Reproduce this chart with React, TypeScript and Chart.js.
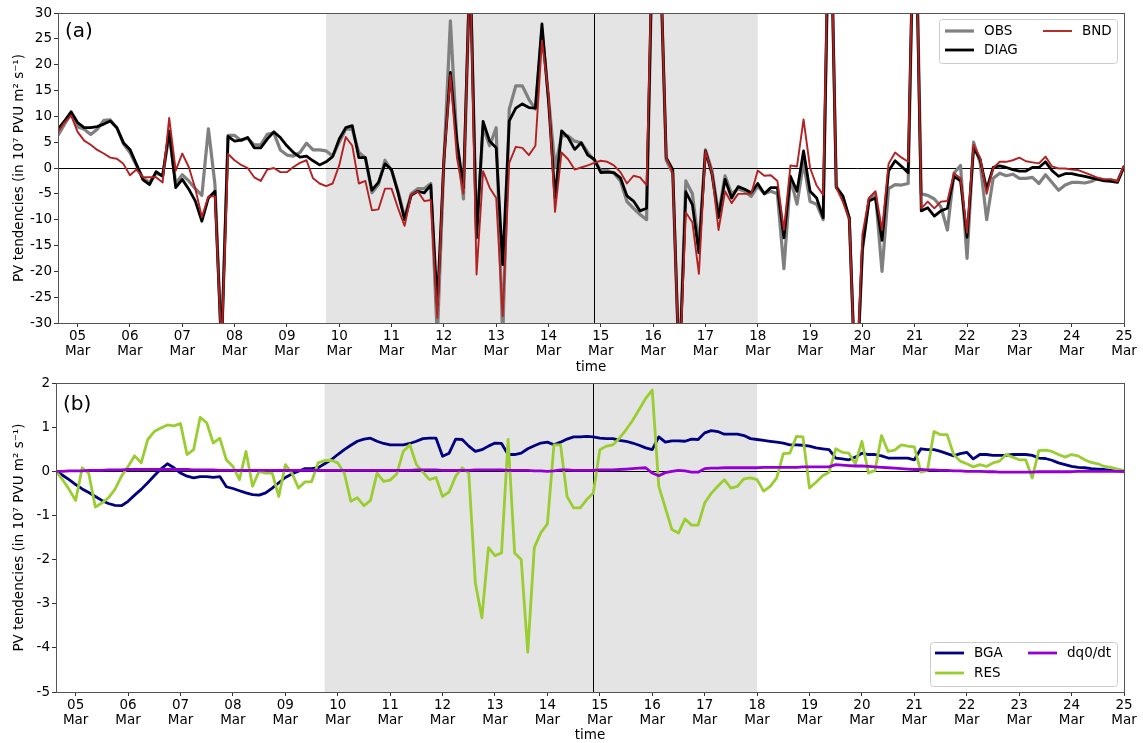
import React, { useEffect, useRef } from 'react';
import { Chart, registerables } from 'chart.js';

Chart.register(...registerables);

// ---------- time axis (days relative to 05 Mar 00:00, 3-hourly samples) ----------
const START_DAY = -0.375; // 04 Mar 15:00
const STEP_DAY = 0.125; // 3 hours
const END_DAY = 20; // 25 Mar 00:00
const DAY_TICKS = [0, 1, 2, 3, 4, 5, 6, 7, 8, 9, 10, 11, 12, 13, 14, 15, 16, 17, 18, 19, 20];
const DAY_LABELS = ['05', '06', '07', '08', '09', '10', '11', '12', '13', '14', '15', '16', '17', '18', '19', '20', '21', '22', '23', '24', '25'];
const MONTH_LABEL = 'Mar';
const SHADE_START = 4.75; // 09 Mar 18:00
const SHADE_END = 13.0; // 18 Mar 00:00
const MARK_DAY = 9.875; // 14 Mar 21:00

// ---------- panel (a) ----------
const OBS = [
  6.3, 8.5, 10.5, 8.0, 7.5, 6.5, 7.5, 9.2, 9.3, 7.8, 4.7, 3.0, 0.5, -2.0, -2.8, -1.0, -1.5, 6.5, -3.0, -1.3, -2.5, -4.0, -5.3, 7.6, -3.2, -35, 6.3, 6.3, 5.3, 5.8, 4.5, 4.5, 6.5, 6.8, 3.5, 2.5, 2.3, 3.0, 4.8, 3.5, 3.5,
  3.3, 2.3, 5.0, 7.5, 7.5, 3.0, 2.0, -4.8, -3.2, 1.5, -0.5, -4.5, -9.5, -5.0, -4.0, -4.0, -3.0, -33, 1.0, 28.5, 5.0, -6.0, 40, -13, 8.0, 4.3, 7.8, -33, 11.4, 15.9, 15.9, 13.3, 11.4, 26.6, 13.7, 0.1, 6.2, 6.2, 5.2, 4.9, 3.0,
  1.5, -0.5, -0.5, -1.0, -2.5, -6.5, -7.8, -9.0, -10.0, 50, 45, 1.5, -1.0, -40, -2.5, -5.0, -15, 3.5, -0.5, -9.0, -1.5, -5.0, -4.0, -4.5, -5.5, -3.5, -5.0, -4.5, -5.0, -19.5, -2.0, -7.0, 1.0, -6.5, -7.0, -10.0, 60, -3.5, -5.5, -10.0, -45,
  -16, -6.0, -5.0, -20.0, -4.0, -3.2, -3.3, -3.0, 60, -5.0, -5.3, -6.0, -7.5, -12.0, -1.0, 0.5, -17.5, 5.0, 1.0, -10.0, -2.0, -1.0, -1.5, -1.2, -2.0, -2.0, -1.8, -3.0, -1.3, -2.8, -4.3, -3.3, -2.8, -2.8, -2.9, -2.6, -2.0, -2.3, -2.3, -2.5, 0.3,
];
const DIAG = [
  7.5, 9.1, 10.9, 8.8, 7.8, 7.8, 8.0, 8.5, 9.1, 7.8, 4.9, 3.6, 0.7, -2.3, -3.2, -0.7, -1.6, 7.2, -3.8, -2.2, -4.1, -6.4, -10.3, -5.8, -4.5, -35, 6.1, 5.2, 5.4, 5.9, 3.9, 3.9, 5.6, 7.0, 5.9, 4.3, 3.0, 2.1, 2.3, 1.4, 0.6,
  1.2, 2.2, 5.6, 7.8, 8.2, 2.0, 2.0, -4.3, -2.8, 0.8, -0.3, -4.8, -10.0, -5.3, -4.5, -4.8, -3.3, -26.5, 1.4, 18.5, 5.2, -3.8, 40, -13.5, 9.0, 5.2, 3.9, -18.7, 9.1, 11.6, 12.4, 11.7, 11.6, 27.9, 13.0, -5.8, 7.2, 5.9, 3.6, 4.9, 2.5,
  1.7, -0.9, -0.8, -0.9, -1.9, -5.4, -6.4, -8.3, -7.8, 50, 45, 2.0, -0.3, -40, -4.6, -7.1, -16.4, 3.3, -1.2, -9.6, -2.2, -5.8, -3.6, -4.1, -4.8, -3.0, -5.0, -3.8, -3.8, -13.5, -1.6, -4.5, 3.3, -4.5, -5.8, -9.6, 60, -3.8, -5.4, -9.6, -45,
  -15.5, -6.4, -5.8, -14.0, -0.6, 1.4, 0.3, -0.9, 60, -8.3, -7.7, -9.3, -8.3, -7.8, -1.6, -2.5, -13.4, 3.9, 1.7, -4.1, 0.1, 0.4, 0.1, -0.3, -0.6, -0.6, 0.1, 0.1, 1.2, -0.5, -1.6, -1.1, -1.1, -1.4, -1.6, -1.9, -2.2, -2.5, -2.6, -2.8, 0.3,
];
const BND = [
  7.0, 8.8, 10.2, 7.0, 5.3, 4.5, 3.5, 2.8, 2.0, 1.8, 0.8, -1.4, -0.3, -1.8, -1.8, -1.8, -2.8, 9.7, -0.5, 2.8, 0.2, -4.0, -9.5, -5.5, -5.5, -35, 2.7, 1.5, 0.6, 0.0, -1.8, -2.5, -0.3, 0.0, -0.8, -0.8, 0.2, 1.0, 1.5, -2.0, -3.0,
  -3.5, -3.0, 0.5, 6.0, 4.3, -3.0, -2.5, -8.2, -8.0, -4.0, -4.0, -7.8, -11.2, -5.2, -4.5, -6.4, -6.2, -29, 1.5, 18.0, 2.0, -5.0, 40, -20.6, -0.6, -3.8, -5.8, -28.7, 1.0, 4.1, 3.9, 2.5, 4.3, 24.7, 14.3, -8.5, 3.0, 1.7, -0.3, 0.1, 0.5,
  1.0, 1.4, 1.2, 0.5, -0.8, -3.0, -1.5, -1.8, -3.3, 50, 45, 2.0, -1.0, -40, -8.6, -10.5, -20.5, 3.3, -1.0, -12.0, -4.5, -6.8, -5.0, -5.0, -5.0, -0.5, -1.5, -1.4, -2.5, -12.0, 0.5, 0.3, 9.4, 0.0, -3.4, -5.2, 60, -3.8, -6.5, -10.0, -45,
  -12.9, -5.8, -4.5, -12.0, 0.8, 3.0, 2.0, 1.2, 60, -7.8, -6.5, -7.8, -6.5, -6.4, -1.0, -2.0, -12.5, 4.5, 2.0, -5.0, 0.0, 1.2, 1.2, 1.5, 2.0, 1.3, 1.1, 0.9, 2.2, 0.3, -0.1, -0.1, -0.3, -0.4, -0.9, -1.4, -1.9, -2.2, -2.2, -2.6, 0.5,
];

// ---------- panel (b) ----------
const BGA = [
  0.0, -0.09, -0.19, -0.3, -0.4, -0.48, -0.57, -0.66, -0.73, -0.77, -0.78, -0.68, -0.54, -0.41, -0.26, -0.1, 0.05, 0.17, 0.08, -0.04, -0.11, -0.15, -0.12, -0.12, -0.14, -0.12, -0.35, -0.39, -0.44, -0.49, -0.53, -0.54, -0.49, -0.38, -0.26, -0.14, -0.06, 0.0, 0.06, 0.06, 0.08,
  0.17, 0.26, 0.38, 0.49, 0.59, 0.68, 0.73, 0.75, 0.68, 0.63, 0.6, 0.6, 0.6, 0.63, 0.68, 0.74, 0.75, 0.75, 0.34, 0.41, 0.73, 0.72, 0.57, 0.45, 0.49, 0.57, 0.64, 0.63, 0.38, 0.38, 0.41, 0.51, 0.58, 0.64, 0.66, 0.6, 0.66, 0.73, 0.78, 0.78, 0.79,
  0.78, 0.75, 0.74, 0.74, 0.7, 0.68, 0.64, 0.59, 0.53, 0.49, 0.78, 0.66, 0.69, 0.69, 0.68, 0.73, 0.72, 0.87, 0.92, 0.9, 0.84, 0.84, 0.84, 0.81, 0.74, 0.72, 0.7, 0.68, 0.66, 0.64, 0.6, 0.6, 0.59, 0.57, 0.53, 0.51, 0.49, 0.3, 0.28, 0.26, 0.32,
  0.41, 0.38, 0.38, 0.35, 0.3, 0.3, 0.3, 0.3, 0.26, 0.51, 0.49, 0.49, 0.45, 0.4, 0.35, 0.4, 0.43, 0.28, 0.38, 0.38, 0.36, 0.36, 0.36, 0.38, 0.38, 0.38, 0.36, 0.3, 0.29, 0.25, 0.19, 0.15, 0.11, 0.09, 0.08, 0.06, 0.05, 0.04, 0.02, 0.01, 0.0,
];
const RES = [
  0.0, -0.19, -0.41, -0.66, 0.08, -0.05, -0.81, -0.72, -0.6, -0.41, -0.11, 0.11, 0.35, 0.19, 0.72, 0.9, 0.98, 1.05, 1.03, 1.08, 0.38, 0.49, 1.22, 1.1, 0.64, 0.75, 0.26, 0.11, -0.19, 0.45, -0.34, 0.0, -0.04, -0.04, -0.57, 0.15, -0.04, -0.38, -0.24, -0.24, 0.19,
  0.24, 0.25, 0.19, -0.04, -0.68, -0.6, -0.78, -0.66, -0.04, -0.23, -0.2, -0.06, 0.45, 0.6, 0.15, -0.02, -0.19, -0.14, -0.57, -0.47, -0.11, 0.08, -0.04, -2.53, -3.32, -1.73, -1.91, -1.85, 0.72, -1.85, -2.0, -4.1, -1.73, -1.39, -1.19, 0.6, 0.6, -0.57, -0.83, -0.83, -0.64,
  -0.49, 0.49, 0.57, 0.6, 0.75, 0.94, 1.15, 1.4, 1.65, 1.84, -0.34, -0.83, -1.32, -1.4, -1.08, -1.22, -1.22, -0.72, -0.5, -0.34, -0.19, -0.38, -0.34, -0.17, -0.15, -0.19, -0.45, -0.34, -0.15, 0.4, 0.41, 0.79, 0.78, -0.38, -0.25, -0.1, -0.02, 0.51, 0.43, 0.41, 0.17,
  0.68, -0.04, 0.02, 0.81, 0.45, 0.48, 0.6, 0.57, 0.55, -0.02, 0.02, 0.9, 0.83, 0.83, 0.38, 0.23, 0.17, 0.1, 0.15, 0.11, 0.19, 0.23, 0.38, 0.32, 0.26, 0.26, -0.15, 0.47, 0.48, 0.45, 0.38, 0.32, 0.38, 0.35, 0.26, 0.2, 0.17, 0.11, 0.09, 0.05, 0.02,
];
const DQ0DT = [
  0.0, 0.0, 0.01, 0.01, 0.01, 0.02, 0.02, 0.02, 0.03, 0.03, 0.03, 0.04, 0.04, 0.04, 0.04, 0.04, 0.04, 0.04, 0.04, 0.04, 0.04, 0.03, 0.03, 0.03, 0.03, 0.02, 0.02, 0.02, 0.02, 0.02, 0.02, 0.02, 0.02, 0.02, 0.02, 0.02, 0.02, 0.02, 0.02, 0.02, 0.02,
  0.02, 0.02, 0.02, 0.02, 0.02, 0.02, 0.02, 0.02, 0.02, 0.02, 0.02, 0.02, 0.02, 0.02, 0.03, 0.03, 0.03, 0.03, 0.02, 0.02, 0.02, 0.02, 0.02, 0.03, 0.03, 0.03, 0.03, 0.03, 0.02, 0.02, 0.02, 0.02, 0.01, 0.01, 0.0, 0.01, 0.03, 0.03, 0.02, 0.02, 0.02,
  0.02, 0.03, 0.03, 0.03, 0.04, 0.05, 0.06, 0.07, 0.08, -0.04, -0.1, -0.03, 0.0, 0.02, 0.01, -0.02, -0.02, 0.06, 0.07, 0.07, 0.08, 0.08, 0.08, 0.08, 0.08, 0.08, 0.09, 0.09, 0.09, 0.09, 0.09, 0.09, 0.1, 0.1, 0.1, 0.1, 0.1, 0.15, 0.14, 0.13, 0.12,
  0.12, 0.11, 0.1, 0.09, 0.08, 0.07, 0.06, 0.05, 0.04, 0.04, 0.03, 0.03, 0.02, 0.02, 0.01, 0.01, 0.0, 0.0, 0.0, -0.01, -0.01, -0.02, -0.02, -0.02, -0.02, -0.02, -0.02, -0.01, -0.01, -0.01, -0.01, -0.01, -0.01, 0.0, 0.0, 0.0, 0.0, 0.0, 0.0, 0.0, 0.0,
];

const Y_TITLE = 'PV tendencies (in 10\u2077 PVU m\u00b2 s\u207b\u00b9)';
const X_TITLE = 'time';
const FONT = "'DejaVu Sans', sans-serif";
const TICK_SIZE = 13.5;

const TIME = OBS.map((_, i) => START_DAY + STEP_DAY * i);
const toPoints = (vals: number[]) => vals.map((v, i) => ({ x: TIME[i], y: v }));

type LegendItem = { label: string; color: string; width: number; hx: number; ty: number };
type PanelSpec = {
  tag: string;
  height: number;
  top: number;
  axisLeft: number;
  axisHeight: number;
  yMin: number;
  yMax: number;
  yStep: number;
  datasets: { label: string; data: number[]; color: string; width: number; order: number }[];
  legendBox: [number, number, number, number];
  legend: LegendItem[];
  tagY: number;
  timeY: number;
};

const PANELS: PanelSpec[] = [
  {
    tag: '(a)',
    height: 371,
    top: 13,
    axisLeft: 58,
    axisHeight: 48,
    yMin: -30,
    yMax: 30,
    yStep: 5,
    datasets: [
      { label: 'OBS', data: OBS, color: '#808080', width: 3.2, order: 2 },
      { label: 'DIAG', data: DIAG, color: '#000000', width: 2.8, order: 1 },
      { label: 'BND', data: BND, color: '#b22222', width: 1.9, order: 0 },
    ],
    legendBox: [939, 19, 178, 44],
    legend: [
      { label: 'OBS', color: '#808080', width: 3.2, hx: 945, ty: 31 },
      { label: 'DIAG', color: '#000000', width: 2.8, hx: 945, ty: 50 },
      { label: 'BND', color: '#b22222', width: 1.9, hx: 1043, ty: 31 },
    ],
    tagY: 32,
    timeY: 367,
  },
  {
    tag: '(b)',
    height: 372,
    top: 12,
    axisLeft: 56,
    axisHeight: 51,
    yMin: -5,
    yMax: 2,
    yStep: 1,
    datasets: [
      { label: 'BGA', data: BGA, color: '#000080', width: 2.8, order: 2 },
      { label: 'RES', data: RES, color: '#9acd32', width: 2.8, order: 1 },
      { label: 'dq0/dt', data: DQ0DT, color: '#9400d3', width: 2.8, order: 0 },
    ],
    legendBox: [930, 271, 187, 44],
    legend: [
      { label: 'BGA', color: '#000080', width: 2.8, hx: 935, ty: 282 },
      { label: 'RES', color: '#9acd32', width: 2.8, hx: 935, ty: 302 },
      { label: 'dq0/dt', color: '#9400d3', width: 2.8, hx: 1028, ty: 282 },
    ],
    tagY: 34,
    timeY: 364,
  },
];

function makeDecor(spec: PanelSpec) {
  return {
    id: 'decor' + spec.tag,
    beforeDatasetsDraw(chart: any) {
      const { ctx, chartArea: a, scales } = chart;
      const x = scales.x;
      const y = scales.y;
      ctx.save();
      ctx.beginPath();
      ctx.rect(a.left, a.top, a.right - a.left, a.bottom - a.top);
      ctx.clip();
      const s1 = x.getPixelForValue(SHADE_START);
      const s2 = x.getPixelForValue(SHADE_END);
      ctx.fillStyle = '#e4e4e4';
      ctx.fillRect(s1, a.top, s2 - s1, a.bottom - a.top);
      ctx.strokeStyle = '#000';
      ctx.lineWidth = 1;
      const y0 = Math.round(y.getPixelForValue(0)) + 0.5;
      ctx.beginPath();
      ctx.moveTo(a.left, y0);
      ctx.lineTo(a.right, y0);
      ctx.stroke();
      const xm = Math.round(x.getPixelForValue(MARK_DAY)) + 0.5;
      ctx.beginPath();
      ctx.moveTo(xm, a.top);
      ctx.lineTo(xm, a.bottom);
      ctx.stroke();
      ctx.restore();
    },
    afterDraw(chart: any) {
      const { ctx, chartArea: a } = chart;
      ctx.save();
      // frame
      ctx.strokeStyle = '#555';
      ctx.lineWidth = 1;
      ctx.strokeRect(Math.round(a.left) + 0.5, Math.round(a.top) + 0.5, Math.round(a.right - a.left), Math.round(a.bottom - a.top));
      // panel tag
      ctx.fillStyle = '#000';
      ctx.font = `20px ${FONT}`;
      ctx.textAlign = 'left';
      ctx.textBaseline = 'middle';
      ctx.fillText(spec.tag, a.left + 7, spec.tagY);
      // y title
      ctx.font = `${TICK_SIZE}px ${FONT}`;
      ctx.save();
      ctx.translate(19, (a.top + a.bottom) / 2);
      ctx.rotate(-Math.PI / 2);
      ctx.textAlign = 'center';
      ctx.textBaseline = 'middle';
      ctx.fillText(Y_TITLE, 0, 0);
      ctx.restore();
      // x title
      ctx.textAlign = 'center';
      ctx.textBaseline = 'middle';
      ctx.fillText(X_TITLE, (a.left + a.right) / 2, spec.timeY);
      // legend
      const [bx, by, bw, bh] = spec.legendBox;
      ctx.fillStyle = 'rgba(255,255,255,0.8)';
      ctx.strokeStyle = '#cccccc';
      ctx.lineWidth = 1;
      ctx.beginPath();
      (ctx as any).roundRect(bx + 0.5, by + 0.5, bw, bh, 3);
      ctx.fill();
      ctx.stroke();
      ctx.textAlign = 'left';
      ctx.textBaseline = 'middle';
      for (const it of spec.legend) {
        ctx.strokeStyle = it.color;
        ctx.lineWidth = it.width;
        ctx.beginPath();
        ctx.moveTo(it.hx, it.ty);
        ctx.lineTo(it.hx + 29, it.ty);
        ctx.stroke();
        ctx.fillStyle = '#000';
        ctx.fillText(it.label, it.hx + 39, it.ty);
      }
      ctx.restore();
    },
  };
}

function buildConfig(spec: PanelSpec): any {
  const grid = {
    display: true,
    drawOnChartArea: false,
    drawTicks: true,
    tickLength: 4,
    tickColor: '#333',
    tickWidth: 1,
  };
  return {
    type: 'line',
    data: {
      datasets: spec.datasets.map((d) => ({
        label: d.label,
        data: toPoints(d.data),
        borderColor: d.color,
        backgroundColor: d.color,
        borderWidth: d.width,
        order: d.order,
        pointRadius: 0,
        tension: 0,
        fill: false,
        clip: 0,
        borderJoinStyle: 'round',
      })),
    },
    options: {
      responsive: false,
      animation: false,
      devicePixelRatio: 1,
      parsing: true,
      layout: { padding: { left: 0, right: 19, top: spec.top, bottom: 0 } },
      plugins: { legend: { display: false }, tooltip: { enabled: false } },
      scales: {
        x: {
          type: 'linear',
          min: START_DAY,
          max: END_DAY,
          afterBuildTicks: (scale: any) => {
            scale.ticks = DAY_TICKS.map((v) => ({ value: v }));
          },
          afterFit: (scale: any) => {
            scale.height = spec.axisHeight;
          },
          ticks: {
            autoSkip: false,
            maxRotation: 0,
            minRotation: 0,
            padding: 2,
            color: '#000',
            font: { family: FONT, size: TICK_SIZE, lineHeight: 1.1 },
            callback: (value: number) => {
              const idx = DAY_TICKS.indexOf(Math.round(value));
              return [DAY_LABELS[idx], MONTH_LABEL];
            },
          },
          grid,
          border: { display: false },
        },
        y: {
          type: 'linear',
          min: spec.yMin,
          max: spec.yMax,
          afterFit: (scale: any) => {
            scale.width = spec.axisLeft;
          },
          ticks: {
            stepSize: spec.yStep,
            padding: 2,
            color: '#000',
            font: { family: FONT, size: TICK_SIZE },
          },
          grid,
          border: { display: false },
        },
      },
    },
    plugins: [makeDecor(spec)],
  };
}

function Panel({ spec }: { spec: PanelSpec }) {
  const ref = useRef<HTMLCanvasElement | null>(null);
  useEffect(() => {
    if (!ref.current) return;
    const chart = new Chart(ref.current, buildConfig(spec));
    return () => chart.destroy();
  }, [spec]);
  return <canvas ref={ref} width={1143} height={spec.height} style={{ display: 'block', width: 1143, height: spec.height }} />;
}

export default function App() {
  return (
    <div style={{ position: 'absolute', left: 0, top: 0, width: 1143, height: 743, background: '#fff' }}>
      {PANELS.map((p) => (
        <Panel key={p.tag} spec={p} />
      ))}
    </div>
  );
}
